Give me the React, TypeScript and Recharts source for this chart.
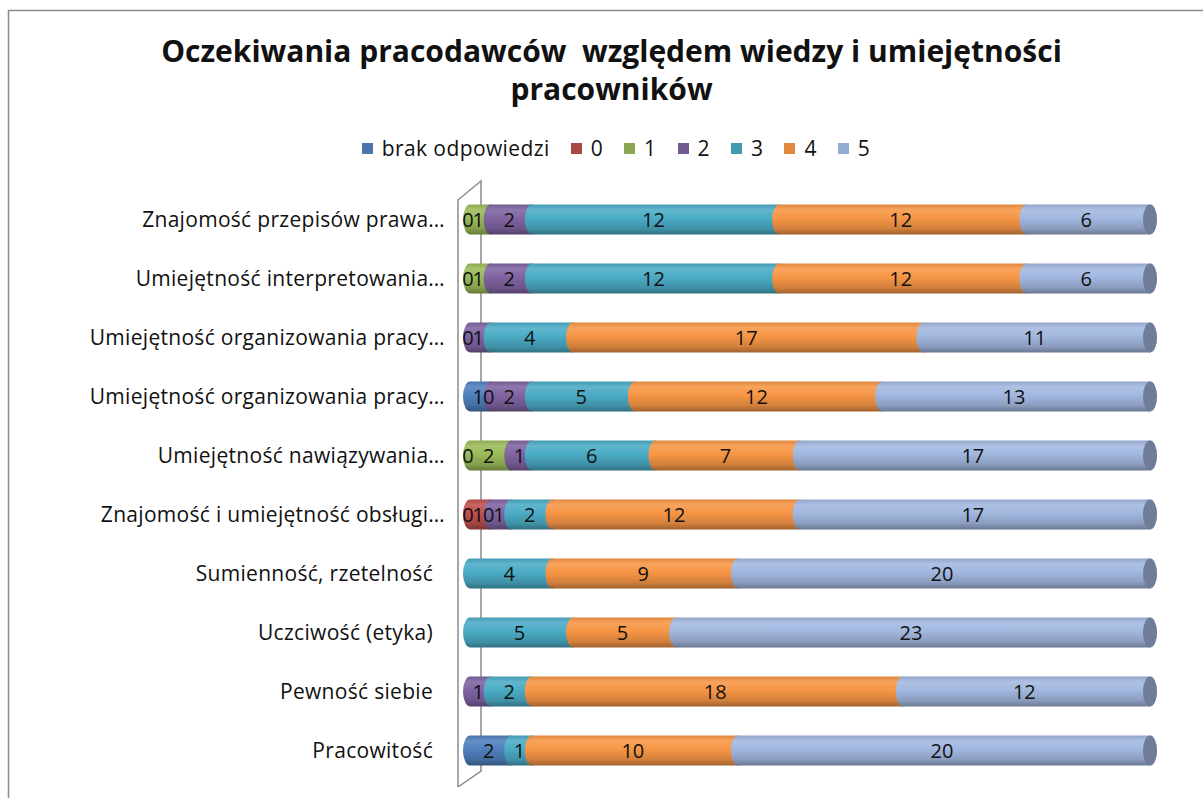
import { BarChart, Bar, XAxis, YAxis, LabelList } from 'recharts'

const categories = [
  'Znajomość przepisów prawa…',
  'Umiejętność interpretowania…',
  'Umiejętność organizowania pracy…',
  'Umiejętność organizowania pracy…',
  'Umiejętność nawiązywania…',
  'Znajomość i umiejętność obsługi…',
  'Sumienność, rzetelność',
  'Uczciwość (etyka)',
  'Pewność siebie',
  'Pracowitość',
]

// null = blank cell (no label), 0 = zero shown as label
const brak = [null, null, null, 1, 0, 0, null, null, null, 2]
const s0 = [0, 0, 0, null, null, 1, null, null, null, null]
const s1 = [1, 1, null, 0, 2, 0, null, null, null, null]
const s2 = [2, 2, 1, 2, 1, 1, null, null, 1, null]
const s3 = [12, 12, 4, 5, 6, 2, 4, 5, 2, 1]
const s4 = [12, 12, 17, 12, 7, 12, 9, 5, 18, 10]
const s5 = [6, 6, 11, 13, 17, 17, 20, 23, 12, 20]

const seriesNames = ['brak odpowiedzi', '0', '1', '2', '3', '4', '5']
const seriesKeys = ['brak', 's0', 's1', 's2', 's3', 's4', 's5']
const seriesValues = [brak, s0, s1, s2, s3, s4, s5]

const COLORS = ['#4f81bd', '#c0504d', '#9bbb59', '#8064a2', '#4bacc6', '#f79646', '#a3b8e0']
const LEGEND_COLORS = ['#4a76aa', '#a94744', '#8ba753', '#725b93', '#4299b0', '#e0893f', '#94abd3']

const data = categories.map((name, i) => {
  const row: Record<string, string | number | null> = { name }
  seriesKeys.forEach((k, j) => {
    row[k] = seriesValues[j][i]
  })
  return row
})

const FONT = '"Open Sans", "Noto Sans", sans-serif'
const RX = 7

function shade(hex: string, amt: number) {
  const n = parseInt(hex.slice(1), 16)
  let r = (n >> 16) & 255
  let g = (n >> 8) & 255
  let b = n & 255
  if (amt >= 0) {
    r = r + (255 - r) * amt
    g = g + (255 - g) * amt
    b = b + (255 - b) * amt
  } else {
    r = r * (1 + amt)
    g = g * (1 + amt)
    b = b * (1 + amt)
  }
  return `rgb(${Math.round(r)},${Math.round(g)},${Math.round(b)})`
}

// cylinder segment: body + rounded ends, last series gets the visible end face
function makeShape(idx: number) {
  return (props: any) => {
    const { x, y, width, height } = props
    if (!width || width <= 0) return <g />
    const cy = y + height / 2
    const ry = height / 2
    const d = `M${x},${y} L${x + width},${y} A${RX},${ry} 0 0 1 ${x + width},${y + height} L${x},${y + height} A${RX},${ry} 0 0 1 ${x},${y} Z`
    const last = idx === seriesKeys.length - 1
    return (
      <g>
        <path d={d} fill={`url(#grad${idx})`} />
        {last && <ellipse cx={x + width} cy={cy} rx={RX} ry={ry} fill={shade(COLORS[idx], -0.32)} />}
      </g>
    )
  }
}

function renderLabel(props: any) {
  const { x, y, width, height, value } = props
  if (value === null || value === undefined) return null
  return (
    <text
      x={x + width / 2 - 2}
      y={y + height / 2}
      textAnchor="middle"
      dominantBaseline="central"
      fontFamily={FONT}
      fontSize={20}
      fill="#111"
    >
      {value}
    </text>
  )
}

function CategoryTick(props: any) {
  const { x, y, payload } = props
  const truncated = String(payload.value).endsWith('…')
  return (
    <text
      x={truncated ? x + 8 : x - 4}
      y={y}
      textAnchor="end"
      dominantBaseline="central"
      fontFamily={FONT}
      fontSize={21}
      letterSpacing={0.3}
      fill="#111"
    >
      {payload.value}
    </text>
  )
}

export default function App() {
  return (
    <div style={{ position: 'fixed', left: 0, top: 0, width: 1203, height: 798, background: '#fff', overflow: 'hidden' }}>
      <svg width={1203} height={798} style={{ position: 'absolute', left: 0, top: 0 }}>
        <rect x={8.5} y={10.5} width={1300} height={900} fill="none" stroke="#8a8a8a" strokeWidth={1.5} />
        <polyline points="458,787 458,200 481,181 481,771 458,787" fill="none" stroke="#8a8a8a" strokeWidth={1.5} />
      </svg>
      <div
        style={{
          position: 'absolute',
          left: 0,
          top: 32,
          width: 1223,
          textAlign: 'center',
          fontFamily: FONT,
          fontWeight: 700,
          fontSize: 30,
          lineHeight: '38px',
          color: '#111',
          whiteSpace: 'pre',
        }}
      >
        {'Oczekiwania pracodawców  względem wiedzy i umiejętności\npracowników'}
      </div>
      <div
        style={{
          position: 'absolute',
          left: 0,
          top: 134,
          width: 1232,
          display: 'flex',
          justifyContent: 'center',
          fontFamily: FONT,
          fontSize: 21,
          letterSpacing: 0.4,
          lineHeight: '28px',
          color: '#111',
        }}
      >
        {seriesNames.map((n, i) => (
          <div key={n} style={{ display: 'flex', alignItems: 'center', marginRight: i < seriesNames.length - 1 ? 21 : 0 }}>
            <span style={{ display: 'inline-block', width: 11, height: 11, background: LEGEND_COLORS[i], marginRight: 9 }} />
            <span>{n}</span>
          </div>
        ))}
      </div>
      <div style={{ position: 'absolute', left: 0, top: 0 }}>
        <BarChart
          width={1203}
          height={798}
          data={data}
          layout="vertical"
          margin={{ top: 189.5, right: 53, bottom: 18.5, left: 0 }}
          barSize={30}
        >
          <defs>
            {COLORS.map((c, i) => (
              <linearGradient key={i} id={`grad${i}`} x1="0" y1="0" x2="0" y2="1">
                <stop offset="0%" stopColor={shade(c, -0.1)} />
                <stop offset="18%" stopColor={shade(c, 0.12)} />
                <stop offset="45%" stopColor={c} />
                <stop offset="80%" stopColor={shade(c, -0.15)} />
                <stop offset="100%" stopColor={shade(c, -0.35)} />
              </linearGradient>
            ))}
          </defs>
          <XAxis type="number" domain={[0, 33]} hide />
          <YAxis
            type="category"
            dataKey="name"
            width={470}
            axisLine={false}
            tickLine={false}
            tickSize={0}
            tickMargin={33}
            interval={0}
            tick={<CategoryTick />}
          />
          {seriesKeys.map((k, i) => (
            <Bar
              key={k}
              dataKey={k}
              name={seriesNames[i]}
              stackId="a"
              fill={COLORS[i]}
              shape={makeShape(i)}
              isAnimationActive={false}
            >
              <LabelList dataKey={k} content={renderLabel} />
            </Bar>
          ))}
        </BarChart>
      </div>
    </div>
  )
}
